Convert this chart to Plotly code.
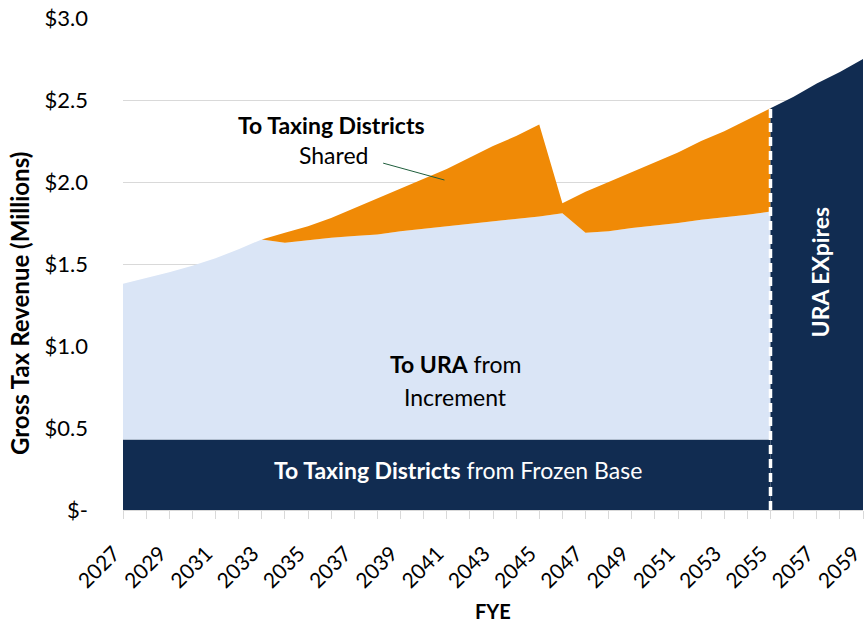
import plotly.graph_objects as go

# ---- data (millions) ----
years = list(range(2027, 2056))
frozen_base = [0.43] * len(years)
# top of the "To URA from Increment" layer (cumulative)
ura_top = [1.38, 1.415, 1.45, 1.49, 1.535, 1.59, 1.65, 1.63, 1.645, 1.66, 1.67, 1.68,
           1.70, 1.715, 1.73, 1.745, 1.76, 1.775, 1.79, 1.81, 1.69, 1.70, 1.72, 1.735,
           1.75, 1.77, 1.785, 1.80, 1.82]
# top of the "Shared" layer (cumulative)
shared_top = [1.38, 1.415, 1.45, 1.49, 1.535, 1.59, 1.65, 1.69, 1.73, 1.78, 1.84, 1.90,
              1.96, 2.02, 2.08, 2.15, 2.22, 2.28, 2.35, 1.87, 1.94, 2.00, 2.06, 2.12,
              2.18, 2.25, 2.31, 2.38, 2.45]
expired_years = [2055, 2056, 2057, 2058, 2059]
expired_total = [2.45, 2.52, 2.60, 2.67, 2.75]

ura_increment = [t - b for t, b in zip(ura_top, frozen_base)]
shared = [s - u for s, u in zip(shared_top, ura_top)]

all_years = list(range(2027, 2060))
x_ticktext = [str(y) if (y - 2027) % 2 == 0 else "" for y in all_years]
y_tickvals = [0, 0.5, 1.0, 1.5, 2.0, 2.5, 3.0]
y_ticktext = ["$-", "$0.5", "$1.0", "$1.5", "$2.0", "$2.5", "$3.0"]

NAVY = "#112C51"
LIGHT = "#DAE5F6"
ORANGE = "#F08A06"
FONT = "Lato, Carlito, Calibri, sans-serif"
FS = 23

fig = go.Figure()
fig.add_trace(go.Scatter(x=years, y=frozen_base, stackgroup="s", mode="lines",
                         line=dict(width=0), fillcolor=NAVY, hoverinfo="skip"))
fig.add_trace(go.Scatter(x=years, y=ura_increment, stackgroup="s", mode="lines",
                         line=dict(width=0), fillcolor=LIGHT, hoverinfo="skip"))
fig.add_trace(go.Scatter(x=years, y=shared, stackgroup="s", mode="lines",
                         line=dict(width=0), fillcolor=ORANGE, hoverinfo="skip"))
fig.add_trace(go.Scatter(x=expired_years, y=expired_total, fill="tozeroy", mode="lines",
                         line=dict(width=0, color=NAVY), fillcolor=NAVY, hoverinfo="skip"))

expiry = years[-1]
fig.add_shape(type="line", x0=expiry, x1=expiry, y0=0, y1=shared_top[-1],
              line=dict(color="white", width=3.5, dash="9px,5px"), layer="above")

# leader line for "Shared"
fig.add_shape(type="line", x0=2038.25, y0=2.115, x1=2040.9, y1=2.012,
              line=dict(color="#1F5E3C", width=1), layer="above")

ann_font = dict(family=FONT, size=FS, color="#000000")
fig.add_annotation(x=2036.0, y=2.348, text="<b>To Taxing Districts</b>", showarrow=False, font=ann_font)
fig.add_annotation(x=2036.1, y=2.165, text="Shared", showarrow=False, font=ann_font)
fig.add_annotation(x=2041.36, y=0.89, text="<b>To URA</b> from", showarrow=False, font=ann_font)
fig.add_annotation(x=2041.36, y=0.69, text="Increment", showarrow=False, font=ann_font)
fig.add_annotation(x=2041.5, y=0.244, text="<b>To Taxing Districts</b> from Frozen Base",
                   showarrow=False, font=dict(family=FONT, size=FS, color="white"))
fig.add_annotation(x=2057.15, y=1.45, text="<b>URA EXpires</b>", textangle=-90,
                   showarrow=False, font=dict(family=FONT, size=FS, color="white"))

# axis titles
fig.add_annotation(xref="paper", yref="paper", x=-0.139, y=0.419, xanchor="center", yanchor="middle",
                   text="<b>Gross Tax Revenue (Millions)</b>", textangle=-90, showarrow=False,
                   font=dict(family=FONT, size=24, color="#000000"))
fig.add_annotation(xref="paper", yref="paper", x=0.5, y=-0.205, xanchor="center", yanchor="middle",
                   text="<b>FYE</b>", showarrow=False,
                   font=dict(family=FONT, size=20, color="#000000"))

fig.update_layout(
    width=865, height=624,
    margin=dict(l=123, r=2, t=18, b=114),
    paper_bgcolor="white", plot_bgcolor="white",
    showlegend=False,
    font=dict(family=FONT, size=FS, color="#000000"),
)
fig.update_xaxes(
    range=[2027, 2059], tickmode="array", tickvals=all_years, ticktext=x_ticktext,
    tickangle=-45, ticks="outside", ticklen=8, tickcolor="#D9D9D9",
    showline=True, linecolor="#D9D9D9", linewidth=1, showgrid=False, zeroline=False,
    automargin=False, ticklabeloverflow="allow", ticklabelstandoff=14, ticklabelshift=-9,
    tickfont=dict(family=FONT, size=21),
)
fig.update_yaxes(
    range=[0, 3.0], tickmode="array", tickvals=y_tickvals, ticktext=y_ticktext,
    showgrid=True, gridcolor="#D9D9D9", gridwidth=1, zeroline=False, showline=False,
    ticks="", ticklabelstandoff=34, automargin=False, ticklabeloverflow="allow",
    tickfont=dict(family=FONT, size=22),
)

fig.write_html("out.html", config={"displayModeBar": False},
               post_script="document.body.style.margin='0';")
